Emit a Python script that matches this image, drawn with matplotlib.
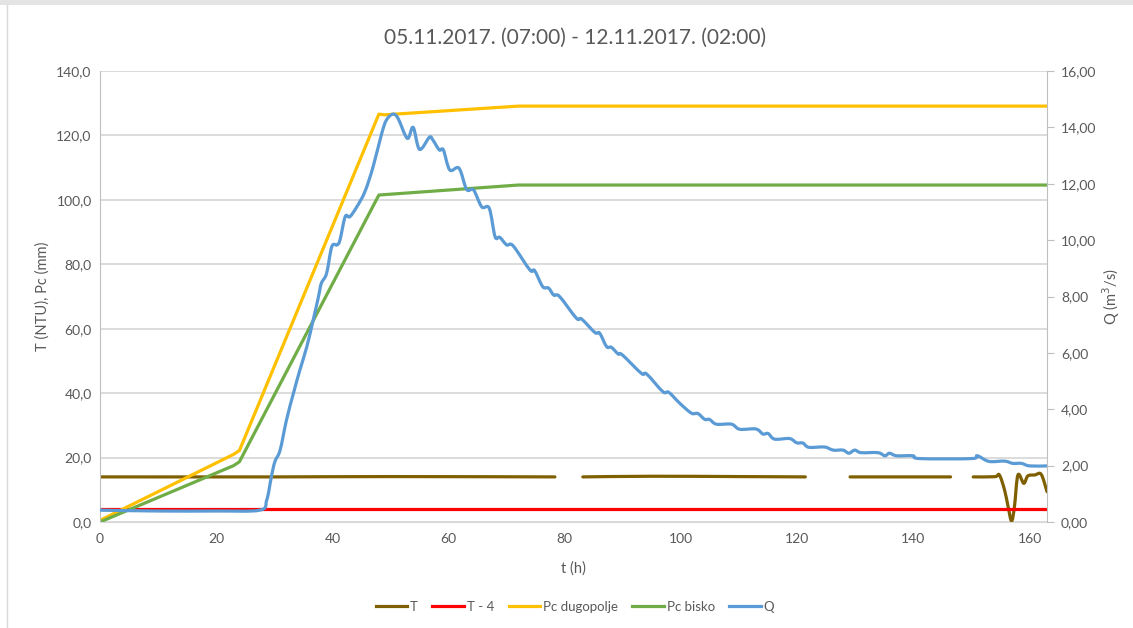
import numpy as np
import matplotlib
matplotlib.use("Agg")
import matplotlib.pyplot as plt
from matplotlib.ticker import FuncFormatter, MultipleLocator
from matplotlib.patches import Rectangle, PathPatch
from matplotlib.path import Path
from matplotlib.lines import Line2D

plt.rcParams['font.family'] = ['Lato', 'DejaVu Sans']

# ---- data -------------------------------------------------------------
title = "05.11.2017. (07:00) - 12.11.2017. (02:00)"

# turbidity T (NTU); NaN marks missing readings
t_T = [0, 30, 50, 78.3, 80, 83.1, 95, 110, 121.4, 125, 129.1, 146.4, 148,
       150.3, 154.0, 154.8, 155.7, 156.3, 156.9, 157.4, 158.0, 159.0, 159.7,
       160.9, 162.0, 163.0]
T = [14.0, 14.0, 14.1, 14.0, np.nan, 14.0, 14.2, 14.1, 14.0, np.nan, 14.0,
     14.0, np.nan, 14.0, 14.06, 14.6, 9.9, 4.8, 0.3, 4.8, 14.6, 12.0, 14.3,
     14.6, 14.8, 9.4]

# threshold line T - 4
t_T4 = [0, 163]
T4 = [4.0, 4.0]

# cumulative precipitation (mm)
t_dug = [0, 23, 24, 48, 49, 72, 163]
pc_dugopolje = [0.5, 21.0, 22.2, 126.6, 126.4, 129.1, 129.1]
t_bis = [0, 23, 24, 48, 72, 163]
pc_bisko = [0.0, 17.5, 18.7, 101.5, 104.6, 104.6]

# discharge Q (m3/s)
t_Q = [0, 10, 20, 27.5, 28.7, 29.5, 30.1, 31.0, 32.1, 33.3, 34.4, 35.6, 36.7,
       37.6, 38.1, 39.0, 39.9, 40.8, 41.3, 42.2, 43.0, 44.2, 45.6, 47.0, 48.5,
       49.3, 50.4, 51.3, 52.9, 53.9, 55.0, 56.7, 57.3, 58.4, 59.1, 60.2, 61.8,
       63.1, 64.3, 65.7, 67.0, 68.0, 68.8, 70.0, 71.1, 74.0, 74.8, 76.2, 77.2,
       78.1, 79.1, 82.0, 82.9, 85.2, 86.0, 87.2, 88.0, 89.2, 89.9, 93.2, 94.1,
       96.9, 97.9, 99.8, 101.8, 102.9, 104.1, 104.9, 106.1, 108.7, 110.1,
       112.9, 114.1, 115.0, 116.1, 118.7, 119.9, 121.0, 122.0, 124.7, 126.2,
       127.9, 128.9, 129.9, 131.0, 133.9, 135.1, 135.9, 137.1, 139.9, 141.1,
       150.0, 151.0, 153.0, 155.7, 157.1, 158.6, 160.0, 163.0]
Q = [0.42, 0.39, 0.39, 0.42, 0.78, 1.61, 2.14, 2.55, 3.62, 4.57, 5.39, 6.22,
     7.17, 7.99, 8.47, 8.82, 9.77, 9.83, 10.0, 10.83, 10.83, 11.18, 11.72,
     12.6, 13.79, 14.26, 14.47, 14.32, 13.61, 14.0, 13.22, 13.65, 13.55, 13.2,
     13.2, 12.49, 12.55, 11.8, 11.78, 11.18, 11.13, 10.12, 10.1, 9.83, 9.8,
     8.94, 8.92, 8.35, 8.3, 8.05, 8.0, 7.23, 7.2, 6.72, 6.7, 6.22, 6.2, 5.96,
     5.93, 5.27, 5.25, 4.62, 4.6, 4.21, 3.86, 3.85, 3.64, 3.64, 3.47, 3.47,
     3.29, 3.30, 3.12, 3.14, 2.94, 2.96, 2.81, 2.80, 2.65, 2.66, 2.55, 2.55,
     2.44, 2.55, 2.46, 2.46, 2.35, 2.44, 2.35, 2.35, 2.25, 2.25, 2.35, 2.15,
     2.16, 2.08, 2.08, 1.99, 1.99]

labels = ["T", "T - 4", "Pc dugopolje", "Pc bisko", "Q"]
colors = ["#7f6000", "#ff0000", "#ffc000", "#70ad47", "#5b9bd5"]


def smooth_path(xs, ys):
    """Cubic Bezier path through the points (spreadsheet-style smoothed line)."""
    p = np.column_stack([xs, ys]).astype(float)
    n = len(p)
    verts = [p[0]]
    codes = [Path.MOVETO]
    for i in range(n - 1):
        p0 = p[i - 1] if i > 0 else p[i]
        p1, p2 = p[i], p[i + 1]
        p3 = p[i + 2] if i + 2 < n else p[i + 1]
        c1 = p1 + (p2 - p0) / 6.0
        c2 = p2 - (p3 - p1) / 6.0
        verts += [c1, c2, p2]
        codes += [Path.CURVE4] * 3
    return Path(verts, codes)


def draw_smooth(axis, xs, ys, color, lw):
    xs = np.asarray(xs, float)
    ys = np.asarray(ys, float)
    ok = ~np.isnan(ys)
    # split into runs of valid readings
    idx = np.flatnonzero(ok)
    runs = np.split(idx, np.flatnonzero(np.diff(idx) > 1) + 1)
    for r in runs:
        if len(r) < 2:
            continue
        axis.add_patch(PathPatch(smooth_path(xs[r], ys[r]), facecolor="none",
                                 edgecolor=color, lw=lw, capstyle="round",
                                 joinstyle="round", transform=axis.transData))


# ---- figure -----------------------------------------------------------
W, H = 1133, 628
fig = plt.figure(figsize=(W / 100, H / 100), dpi=100)

# outer chart frame
fig.patches.append(Rectangle((0, 1 - 5 / H), 1, 5 / H, transform=fig.transFigure,
                             facecolor="#e4e4e4", edgecolor="none", zorder=0))
fig.lines.append(Line2D([7 / W, 7 / W], [0, 1 - 5 / H], transform=fig.transFigure,
                        color="#d9d9d9", lw=1.0))

ax = fig.add_axes([100 / W, 1 - 522 / H, 947 / W, 451 / H])
ax2 = ax.twinx()

text_c = "#595959"
grid_c = "#d9d9d9"
lw = 2.3

draw_smooth(ax, t_T, T, colors[0], lw)
ax.plot(t_T4, T4, color=colors[1], lw=lw)
ax.plot(t_dug, pc_dugopolje, color=colors[2], lw=lw, solid_joinstyle="round")
ax.plot(t_bis, pc_bisko, color=colors[3], lw=lw, solid_joinstyle="round")
draw_smooth(ax2, t_Q, Q, colors[4], lw)

ax.set_xlim(0, 163)
ax.set_ylim(0, 140)
ax2.set_ylim(0, 16)

ax.xaxis.set_major_locator(MultipleLocator(20))
ax.yaxis.set_major_locator(MultipleLocator(20))
ax2.yaxis.set_major_locator(MultipleLocator(2))
ax.yaxis.set_major_formatter(FuncFormatter(lambda v, p: f"{v:.1f}".replace(".", ",")))
ax2.yaxis.set_major_formatter(FuncFormatter(lambda v, p: f"{v:.2f}".replace(".", ",")))

ax.grid(axis="y", color=grid_c, lw=1.3)
ax.set_axisbelow(True)

for a in (ax, ax2):
    a.spines["top"].set_visible(False)
    a.spines["bottom"].set_color(grid_c)
    a.spines["left"].set_color("#bfbfbf")
    a.spines["right"].set_color("#bfbfbf")
ax.spines["right"].set_visible(False)
ax2.spines["left"].set_visible(False)
ax2.spines["bottom"].set_visible(False)

ax.tick_params(axis="both", length=0, labelsize=10, labelcolor=text_c, pad=6)
ax.tick_params(axis="x", pad=8)
ax2.tick_params(axis="y", length=5, color="#bfbfbf", labelsize=10,
                labelcolor=text_c, pad=5)

ax.set_xlabel("t (h)", fontsize=10.5, color=text_c, labelpad=12)
ax.set_ylabel("T (NTU), Pc (mm)", fontsize=10.5, color=text_c, labelpad=5)
ax2.set_ylabel("Q (m$^3$/s)", fontsize=10.5, color=text_c, labelpad=3,
               rotation=90)

fig.text(575 / W, 1 - 38 / H, title, ha="center", va="center",
         fontsize=15, color=text_c)

handles = [Line2D([], [], color=c, lw=lw) for c in colors]
fig.legend(handles, labels, loc="center", bbox_to_anchor=(575 / W, 1 - 607 / H),
           ncol=5, frameon=False, fontsize=9.5, labelcolor=text_c,
           handlelength=2.4, handletextpad=0.2, columnspacing=1.1)

fig.savefig("out.png", dpi=100)
